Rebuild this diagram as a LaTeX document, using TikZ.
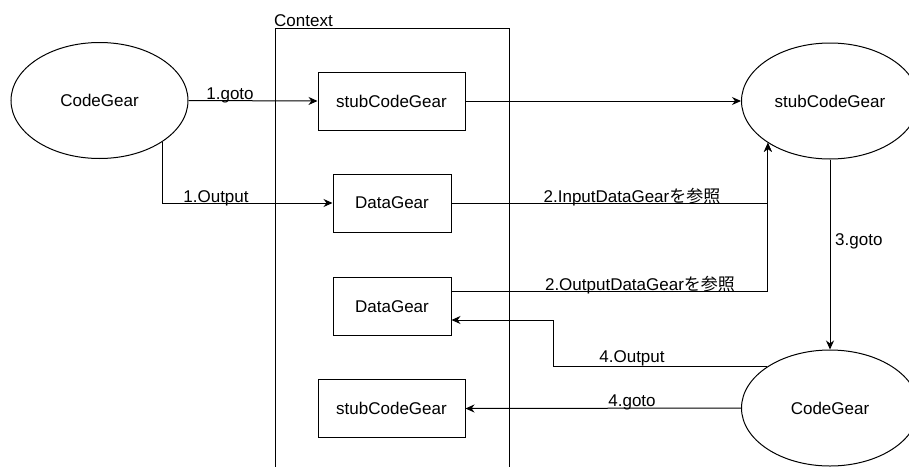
\documentclass[tikz,border=0pt]{standalone}
\usepackage{fontspec}
\setmainfont{Liberation Sans}
\newfontfamily\cjk{Noto Sans CJK JP}
\usetikzlibrary{shapes}
\usetikzlibrary{arrows.meta}
\tikzset{
	gear node/.style={ellipse,draw,line width=1pt,minimum width=177pt,minimum height=116pt,inner sep=0pt},
	box node/.style={rectangle,draw,line width=1pt,minimum width=147pt,minimum height=58pt,inner sep=0pt},
	data node/.style={box node,minimum width=118pt},
	lbl/.style={anchor=base,inner sep=0pt},
	arr/.style={-{Stealth[length=9pt,width=8pt]},line width=1pt}
}
\begin{document}
\begin{tikzpicture}[x=1pt,y=-1pt,font=\fontsize{17}{20}\selectfont]
	\useasboundingbox (0,0) rectangle (909,466);
	% context
	\draw[line width=1pt] (275,480) -- (275,28) -- (509,28) -- (509,480);
	\node[lbl,anchor=base west] (ctx) at (274,26) {Context};
	% gears
	\node [gear node] (code1) at (99.5,100.5) {CodeGear};
	\node [gear node] (stubE) at (830,101) {stubCodeGear};
	\node [gear node] (codeE) at (830,408) {CodeGear};
	\node [box node] (stub1) at (391.5,101) {stubCodeGear};
	\node [data node] (data1) at (392,203) {DataGear};
	\node [data node] (data2) at (392,306.5) {DataGear};
	\node [box node] (stub2) at (391.5,408.5) {stubCodeGear};
	\coordinate (turn) at (553,0);
	% edges
	\draw[arr] (code1.east) -- (stub1.west);
	\draw[arr] (code1.-33) |- (data1.west);
	\draw[arr] (stub1.east) -- (stubE.west);
	\draw[arr] (data1.east) -| (stubE.-146);
	\draw[arr] ([yshift=15.5pt]data2.east) -| (stubE.-146);
	\draw[arr] (stubE.south) -- (codeE.north);
	\draw[arr] (codeE.147) -- (codeE.147 -| turn) |- ([yshift=-13.5pt]data2.east);
	\draw[arr] (codeE.west) -- (stub2.east);
	% labels
	\node[lbl] (l1) at (230,99) {1.goto};
	\node[lbl] (l2) at (216,202) {1.Output};
	\node[lbl] (l3) at (632,202) {2.InputDataGear{\cjk を参照}};
	\node[lbl] (l4) at (640,290) {2.OutputDataGear{\cjk を参照}};
	\node[lbl,anchor=base west] (l5) at (835,245) {3.goto};
	\node[lbl] (l6) at (632,362) {4.Output};
	\node[lbl] (l7) at (632,406) {4.goto};
\end{tikzpicture}
\end{document}
